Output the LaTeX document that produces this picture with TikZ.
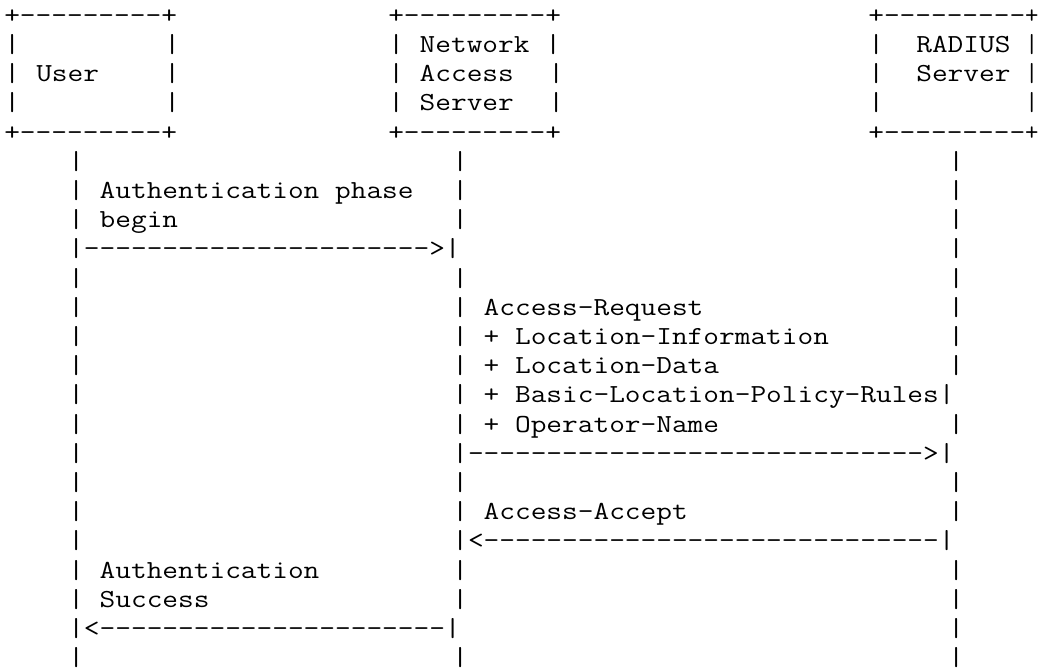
\documentclass[tikz,border=0pt]{standalone}
\usepackage{graphicx}
\tikzset{cell/.style={anchor=base west, inner sep=0pt, outer sep=0pt,
  font=\fontsize{26}{26}\selectfont\ttfamily}}
\newcommand\gx{1.1722}
\newcommand\cellat[4]{\node[cell] (#1) at ({4.3pt+16pt*#2},{-23.3pt-29.2pt*#3}) {\scalebox{\gx}[1]{#4}};}
% glyphs of the last column, kept just inside the right edge of the picture
\newcommand\celllast[3]{\node[cell, anchor=base east] (#1) at (1038.5pt,{-23.3pt-29.2pt*#2}) {#3};}
\newcommand\dashrun[1]{\foreach \dd in {1,...,#1}{-\kern0pt}}
\begin{document}
\begin{tikzpicture}
\fill[white] (0,0) rectangle (1039pt,-672pt);
\useasboundingbox (0,0) rectangle (1039pt,-672pt);
% boxes
\cellat{ua}{0}{0}{+\dashrun{9}+}
\cellat{na}{24}{0}{+\dashrun{9}+}
\cellat{ra}{54}{0}{+\dashrun{9}}
\celllast{raz}{0}{+}
\cellat{ub1}{0}{1}{|}
\cellat{ub2}{10}{1}{|}
\cellat{nb}{24}{1}{| Network |}
\cellat{rb1}{54}{1}{|}
\cellat{rb2}{57}{1}{RADIUS}
\celllast{rbz}{1}{|}
\cellat{uc1}{0}{2}{|}
\cellat{user}{2}{2}{User}
\cellat{uc2}{10}{2}{|}
\cellat{nc1}{24}{2}{| Access}
\cellat{nc2}{34}{2}{|}
\cellat{rc1}{54}{2}{|}
\cellat{rc2}{57}{2}{Server}
\celllast{rcz}{2}{|}
\cellat{ud1}{0}{3}{|}
\cellat{ud2}{10}{3}{|}
\cellat{nd1}{24}{3}{| Server}
\cellat{nd2}{34}{3}{|}
\cellat{rd1}{54}{3}{|}
\celllast{rdz}{3}{|}
\cellat{ue}{0}{4}{+\dashrun{9}+}
\cellat{ne}{24}{4}{+\dashrun{9}+}
\cellat{re}{54}{4}{+\dashrun{9}}
\celllast{rez}{4}{+}
% plain lifeline rows
\foreach \r in {5,9,16,22}{
  \cellat{lu\r}{4}{\r}{|}
  \cellat{ln\r}{28}{\r}{|}
  \cellat{lr\r}{59}{\r}{|}
}
% user lifeline only rows
\foreach \r in {10,11,12,13,14,15,17,18}{
  \cellat{lu\r}{4}{\r}{|}
}
% nas lifeline only rows
\foreach \r in {6,7,19,20}{
  \cellat{ln\r}{28}{\r}{|}
}
% radius lifeline only rows
\foreach \r in {6,7,8,10,11,12,14,17,19,20,21}{
  \cellat{lr\r}{59}{\r}{|}
}
% messages
\cellat{m1a}{4}{6}{| Authentication phase}
\cellat{m1b}{4}{7}{| begin}
\cellat{m1}{4}{8}{|\dashrun{22}>|}
\cellat{m2a}{28}{10}{| Access-Request}
\cellat{m2b}{28}{11}{| + Location-Information}
\cellat{m2c}{28}{12}{| + Location-Data}
\cellat{m2d}{28}{13}{| + Basic-Location-Policy-Rules|}
\cellat{m2e}{28}{14}{| + Operator-Name}
\cellat{m2}{28}{15}{|\dashrun{29}>|}
\cellat{m3a}{28}{17}{| Access-Accept}
\cellat{m3}{28}{18}{|<\dashrun{29}|}
\cellat{m4a}{4}{19}{| Authentication}
\cellat{m4b}{4}{20}{| Success}
\cellat{m4}{4}{21}{|<\dashrun{22}|}
\end{tikzpicture}
\end{document}
